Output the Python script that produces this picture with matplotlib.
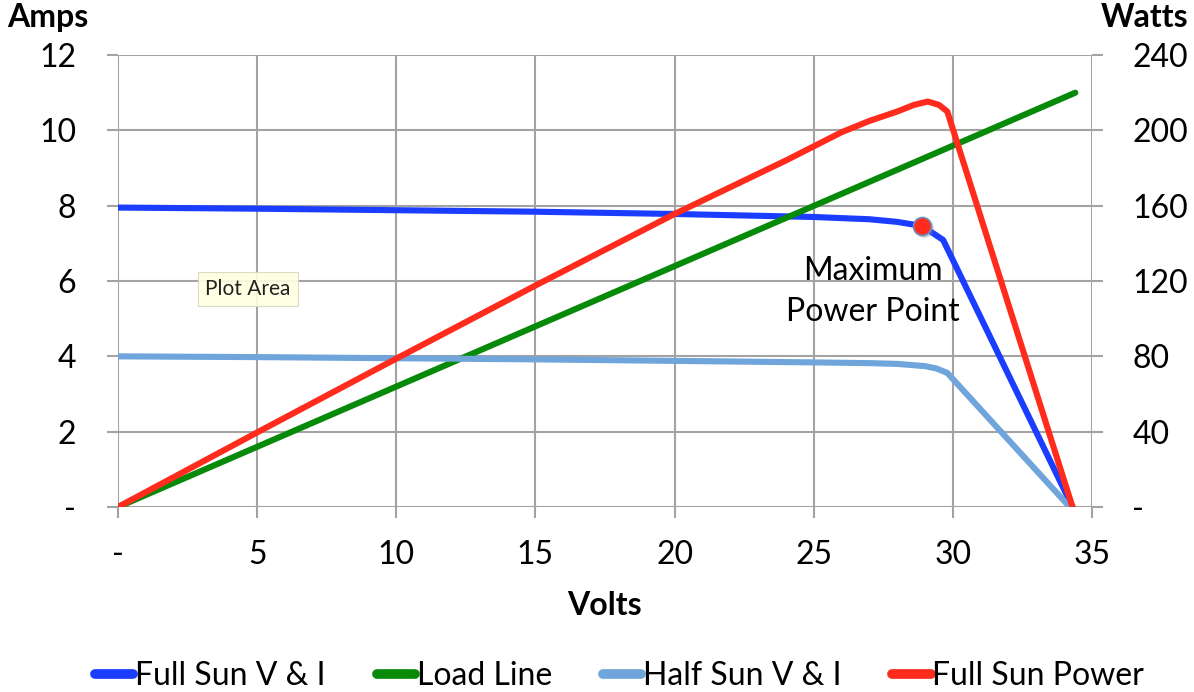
import matplotlib
matplotlib.use("Agg")
import matplotlib.pyplot as plt
from matplotlib.lines import Line2D

plt.rcParams['font.family'] = ['Lato', 'DejaVu Sans']

# --- donnees ---
volts_full = [0, 5, 10, 15, 20, 25, 27, 28, 28.9, 29.65, 34.3]
amps_full = [7.95, 7.92, 7.88, 7.84, 7.78, 7.7, 7.64, 7.57, 7.46, 7.09, 0]

volts_power = [0, 5, 10, 15, 20, 24, 26, 27, 28, 28.6, 29.1, 29.5, 29.8, 34.3]
watts_power = [0, 39.6, 78.8, 117.6, 155.6, 184, 199, 205, 210, 213.5, 215.3, 213.5, 210, 0]

volts_half = [0, 5, 10, 15, 20, 25, 27, 28, 29, 29.4, 29.8, 34.2]
amps_half = [4.0, 3.98, 3.95, 3.92, 3.88, 3.84, 3.82, 3.8, 3.74, 3.68, 3.56, 0]

volts_load = [0, 34.4]
amps_load = [0, 11]

mpp_volts = 28.9
mpp_amps = 7.46

x_ticks = [0, 5, 10, 15, 20, 25, 30, 35]
amp_ticks = [0, 2, 4, 6, 8, 10, 12]
watt_ticks = [0, 40, 80, 120, 160, 200, 240]

c_full = '#1a3dff'
c_load = '#078a0a'
c_half = '#6fa5db'
c_power = '#ff2b1c'
c_grid = '#a3a3a3'

fs = 23

fig = plt.figure(figsize=(11.94, 6.92), dpi=100)
ax = fig.add_axes([0.0988, 0.2673, 0.8158, 0.6532])
ax2 = ax.twinx()

# courbes
lw = 4.4
ax.plot(volts_full, amps_full, color=c_full, lw=lw, solid_capstyle='round', solid_joinstyle='round', zorder=3)
ax.plot(volts_load, amps_load, color=c_load, lw=lw, solid_capstyle='round', zorder=3)
ax.plot(volts_half, amps_half, color=c_half, lw=lw, solid_capstyle='round', solid_joinstyle='round', zorder=3)
ax2.plot(volts_power, watts_power, color=c_power, lw=lw, solid_capstyle='round', solid_joinstyle='round', zorder=3)

# point de puissance maximale (avec ombre)
ax2.plot([mpp_volts + 0.08], [mpp_amps * 20 - 1.0], 'o', ms=13.5, color='#888888', alpha=0.35,
         mec='none', zorder=4)
ax2.plot([mpp_volts], [mpp_amps * 20], 'o', ms=13, color='#ff2b1c', mec='#6e8fbf', mew=1.2, zorder=5)

# axes
ax.set_xlim(0, 35)
ax.set_ylim(0, 12)
ax2.set_ylim(0, 240)
ax.set_xticks(x_ticks)
ax.set_yticks(amp_ticks)
ax2.set_yticks(watt_ticks)
ax.set_xticklabels(['-' if v == 0 else str(v) for v in x_ticks])
ax.set_yticklabels(['-' if v == 0 else str(v) for v in amp_ticks])
ax2.set_yticklabels(['-' if v == 0 else str(v) for v in watt_ticks])

ax.grid(True, color=c_grid, lw=1.5)
ax.set_axisbelow(True)
for a in (ax, ax2):
    for s in a.spines.values():
        s.set_visible(False)
    a.tick_params(length=8, width=1.5, color=c_grid, labelsize=fs)
ax.tick_params(axis='x', pad=16)
ax.tick_params(axis='y', pad=22)
ax2.tick_params(axis='y', pad=21)

# titres des axes
fig.text(0.006, 0.974, 'Amps', fontsize=fs, fontweight='bold', ha='left', va='center')
fig.text(0.995, 0.974, 'Watts', fontsize=fs, fontweight='bold', ha='right', va='center')
fig.text(0.506, 0.125, 'Volts', fontsize=fs, fontweight='bold', ha='center', va='center')

# annotation
ax.text(27.13, 5.73, 'Maximum\nPower Point', fontsize=fs, ha='center', va='center', linespacing=1.45, zorder=6)

# bulle "Plot Area"
ax.text(4.67, 5.79, 'Plot Area', fontsize=15, color='#222222', ha='center', va='center', zorder=6,
        bbox=dict(boxstyle='square,pad=0.35', fc='#ffffe0', ec='#d8d8c0', lw=0.8, alpha=0.9))

# legende
handles = [Line2D([], [], color=c, lw=7, solid_capstyle='round') for c in (c_full, c_load, c_half, c_power)]
labels = ['Full Sun V & I', 'Load Line', 'Half Sun V & I', 'Full Sun Power']
fig.legend(handles, labels, loc='center', bbox_to_anchor=(0.519, 0.023), ncol=4, frameon=False,
           fontsize=fs, handlelength=1.2, handletextpad=0.05, columnspacing=1.6)

fig.savefig('out.png', dpi=100)
